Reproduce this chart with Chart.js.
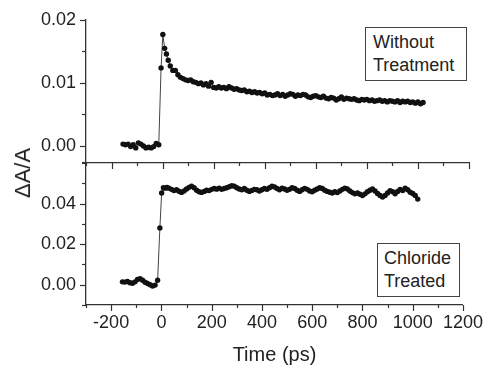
<!DOCTYPE html>
<html>
<head>
<meta charset="utf-8">
<script src="https://cdn.jsdelivr.net/npm/chart.js@4/dist/chart.umd.min.js"></script>
<style>
  html, body { margin: 0; padding: 0; background: #fff; }
  #wrap { position: relative; width: 490px; height: 365px; overflow: hidden; font-family: "Liberation Sans", Arial, sans-serif; color: #222; }
  #topBox { position: absolute; left: 0; top: 0; width: 490px; height: 170px; }
  #bottomBox { position: absolute; left: 0; top: 150px; width: 490px; height: 215px; }
  .note { position: absolute; box-sizing: border-box; border: 1px solid #444; background: #fff; font-size: 18px; white-space: nowrap; }
  #yTitle { position: absolute; left: 23px; top: 173px; font-size: 22px; white-space: nowrap; transform: translate(-50%, -50%) rotate(-90deg); }
</style>
</head>
<body>
<div id="wrap">
  <div id="topBox"><canvas id="topChart"></canvas></div>
  <div id="bottomBox"><canvas id="bottomChart"></canvas></div>
  <div class="note" style="left:365px; top:27px; width:102px; height:54px; padding:3px 0 0 7px; line-height:22.5px;">Without<br>Treatment</div>
  <div class="note" style="left:377px; top:243px; width:83px; height:54px; padding:3px 0 0 6px; line-height:23px;">Chloride<br>Treated</div>
  <div id="yTitle">ΔA/A</div>
</div>
<script>
// delay times (ps), shared by both traces
const timePs = [
  -155, -145, -135, -125, -115, -105, -95, -85, -75, -65, -55, -45, -35, -25, -15,
  -6, 1, 8, 15, 22,
  30, 40, 50, 60, 70, 80, 90, 100, 110, 120,
  130, 140, 150, 160, 170, 180, 190, 200, 210, 220,
  230, 240, 250, 260, 270, 280, 290, 300, 310, 320,
  330, 340, 350, 360, 370, 380, 390, 400, 410, 420,
  430, 440, 450, 460, 470, 480, 490, 500, 510, 520,
  530, 540, 550, 560, 570, 580, 590, 600, 610, 620,
  630, 640, 650, 660, 670, 680, 690, 700, 710, 720,
  730, 740, 750, 760, 770, 780, 790, 800, 810, 820,
  830, 840, 850, 860, 870, 880, 890, 900, 910, 920,
  930, 940, 950, 960, 970, 980, 990, 1000, 1010, 1020
];

// dA/A, without treatment
const untreated = [
  0.0003, 0.0002, 0.0003, -0.0001, 0.0002, -0.0003, 0.0005, 0.0003, 0.0000, -0.0003, -0.0002, -0.0003, -0.0001, 0.0004, 0.0002,
  0.0124, 0.0177, 0.0155, 0.0146, 0.0136,
  0.0127, 0.0120, 0.0120, 0.0113, 0.0109, 0.0107, 0.0105, 0.0104, 0.0105, 0.0102,
  0.0101, 0.0099, 0.0100, 0.0097, 0.0099, 0.0095, 0.0101, 0.0093, 0.0092, 0.0094,
  0.0092, 0.0093, 0.0091, 0.0094, 0.0092, 0.0090, 0.0091, 0.0089, 0.0088, 0.0089,
  0.0086, 0.0087, 0.0085, 0.0086, 0.0084, 0.0085, 0.0083, 0.0084, 0.0081, 0.0082,
  0.0080, 0.0081, 0.0083, 0.0080, 0.0082, 0.0079, 0.0081, 0.0083, 0.0082, 0.0079,
  0.0081, 0.0080, 0.0082, 0.0081, 0.0078, 0.0077, 0.0079, 0.0080, 0.0078, 0.0077,
  0.0079, 0.0076, 0.0075, 0.0077, 0.0076, 0.0073, 0.0075, 0.0078, 0.0074, 0.0076,
  0.0075, 0.0074, 0.0075, 0.0073, 0.0072, 0.0074, 0.0073, 0.0074, 0.0072, 0.0073,
  0.0071, 0.0072, 0.0073, 0.0071, 0.0072, 0.0070, 0.0072, 0.0071, 0.0070, 0.0072,
  0.0069, 0.0071, 0.0070, 0.0071, 0.0069, 0.0070, 0.0068, 0.0070, 0.0067, 0.0069
];

// dA/A, chloride treated
const chloride = [
  0.0014, 0.0013, 0.0016, 0.0010, 0.0007, 0.0014, 0.0026, 0.0030, 0.0022, 0.0012, 0.0006, 0.0000, -0.0006, -0.0002, 0.0022,
  0.0280, 0.0452, 0.0478, 0.0476, 0.0479,
  0.0476, 0.0470, 0.0464, 0.0468, 0.0461, 0.0455, 0.0462, 0.0472, 0.0480, 0.0486,
  0.0478, 0.0466, 0.0458, 0.0455, 0.0460, 0.0466, 0.0464, 0.0470, 0.0474, 0.0471,
  0.0476, 0.0470, 0.0474, 0.0478, 0.0483, 0.0488, 0.0486, 0.0478, 0.0472, 0.0468,
  0.0474, 0.0466, 0.0460, 0.0465, 0.0470, 0.0468, 0.0462, 0.0468, 0.0474, 0.0470,
  0.0478, 0.0486, 0.0482, 0.0474, 0.0468, 0.0476, 0.0472, 0.0466, 0.0470, 0.0478,
  0.0474, 0.0466, 0.0460, 0.0468, 0.0475, 0.0470, 0.0462, 0.0458, 0.0466, 0.0472,
  0.0478, 0.0474, 0.0466, 0.0460, 0.0456, 0.0452, 0.0458, 0.0454, 0.0462, 0.0470,
  0.0476, 0.0472, 0.0462, 0.0454, 0.0448, 0.0452, 0.0446, 0.0440, 0.0448, 0.0458,
  0.0466, 0.0472, 0.0462, 0.0450, 0.0440, 0.0432, 0.0440, 0.0452, 0.0464, 0.0458,
  0.0448, 0.0460, 0.0470, 0.0464, 0.0476, 0.0468, 0.0456, 0.0450, 0.0440, 0.0422
];

// tick values
const xMajor = [-200, 0, 200, 400, 600, 800, 1000, 1200];
const xMinor = [-300, -100, 100, 300, 500, 700, 900, 1100];
const topYMajor = [0, 0.01, 0.02];
const topYMinor = [-0.0025, 0.005, 0.015];
const bottomYMajor = [0, 0.02, 0.04];
const bottomYMinor = [-0.01, 0.01, 0.03, 0.05, 0.06];

const FONT = "'Liberation Sans', Arial, sans-serif";
const AXIS = '#333';

Chart.defaults.font.family = FONT;
Chart.defaults.color = '#222';

// draws Origin-style outward ticks (major + minor) with the chart's own scales
const tickMarks = {
  id: 'tickMarks',
  afterDraw(chart, args, opts) {
    const ctx = chart.ctx;
    ctx.save();
    ctx.strokeStyle = AXIS;
    ctx.lineWidth = 1.2;
    const xs = chart.scales.x, ys = chart.scales.y;
    const drawX = (vals, len) => vals.forEach(v => {
      const px = Math.round(xs.getPixelForValue(v)) + 0.5;
      ctx.beginPath(); ctx.moveTo(px, xs.top); ctx.lineTo(px, xs.top + len); ctx.stroke();
    });
    const drawY = (vals, len) => vals.forEach(v => {
      const py = Math.round(ys.getPixelForValue(v)) + 0.5;
      ctx.beginPath(); ctx.moveTo(ys.right, py); ctx.lineTo(ys.right - len, py); ctx.stroke();
    });
    drawX(xMajor, 6); drawX(xMinor, 3);
    drawY(opts.yMajor, 6); drawY(opts.yMinor, 4);
    ctx.restore();
  }
};

function makeDataset(values) {
  return {
    data: timePs.map((t, i) => ({ x: t, y: values[i] })),
    borderColor: '#444',
    borderWidth: 1,
    pointRadius: 2.7,
    pointBackgroundColor: '#111',
    pointBorderWidth: 0,
    tension: 0
  };
}

function makeChart(id, values, yMin, yMax, yMajor, yMinor, showX, padTop) {
  return new Chart(document.getElementById(id), {
    type: 'line',
    data: { datasets: [makeDataset(values)] },
    options: {
      responsive: true,
      maintainAspectRatio: false,
      animation: false,
      layout: { padding: { top: padTop, right: 21, left: 0, bottom: 0 } },
      plugins: {
        legend: { display: false },
        tooltip: { enabled: false },
        tickMarks: { yMajor, yMinor }
      },
      scales: {
        x: {
          type: 'linear',
          min: -300,
          max: 1200,
          grid: { display: false, drawTicks: false },
          border: { display: true, color: AXIS, width: 1.3 },
          afterBuildTicks: (s) => { s.ticks = xMajor.map(v => ({ value: v })); },
          afterFit: (s) => { s.height = showX ? 60 : 7; },
          ticks: {
            display: showX,
            padding: 7,
            maxRotation: 0,
            font: { size: 18 },
            callback: (v) => String(v)
          },
          title: {
            display: showX,
            text: 'Time (ps)',
            font: { size: 20, lineHeight: 1 },
            padding: { top: 0, bottom: 0 }
          }
        },
        y: {
          min: yMin,
          max: yMax,
          grid: { display: false, drawTicks: false },
          border: { display: true, color: AXIS, width: 1.3 },
          afterBuildTicks: (s) => { s.ticks = yMajor.map(v => ({ value: v })); },
          afterFit: (s) => { s.width = 86; s.paddingTop = 0; s.paddingBottom = 0; },
          ticks: {
            padding: 10,
            font: { size: 18 },
            callback: (v) => v.toFixed(2)
          }
        }
      }
    },
    plugins: [tickMarks]
  });
}

makeChart('topChart', untreated, -0.0027, 0.02, topYMajor, topYMinor, false, 20);
makeChart('bottomChart', chloride, -0.01, 0.06, bottomYMajor, bottomYMinor, true, 13);
</script>
</body>
</html>
